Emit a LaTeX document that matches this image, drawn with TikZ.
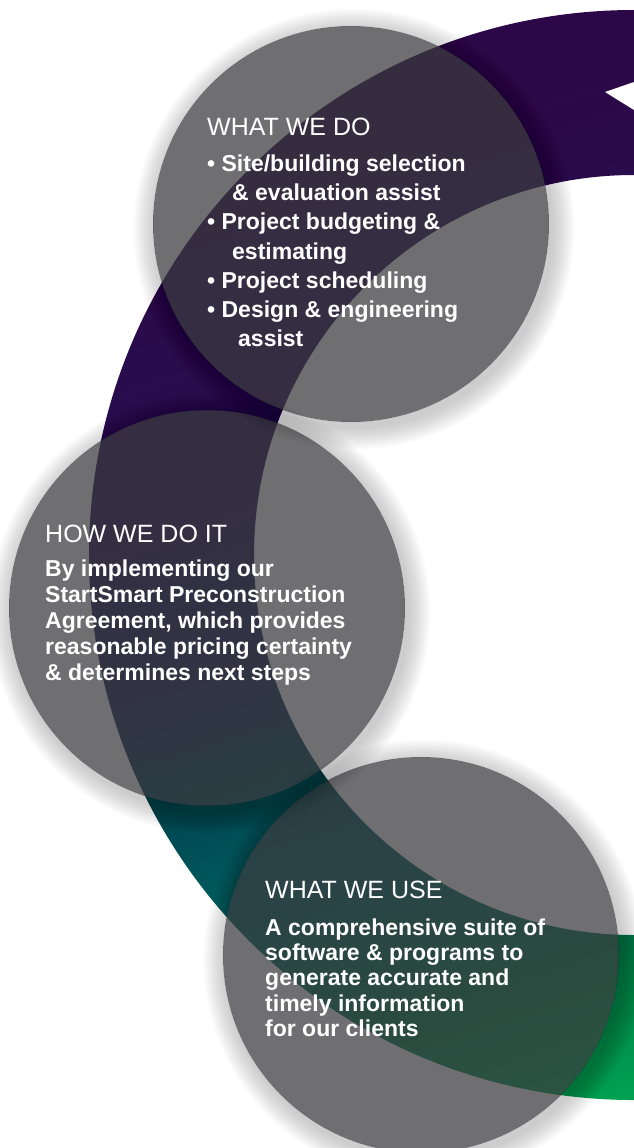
\documentclass[tikz,border=0pt]{standalone}
\usepackage{fontspec}
\setmainfont{Liberation Sans}
\definecolor{discgray}{RGB}{58,58,62}
\definecolor{bandpurple}{RGB}{44,8,72}
\definecolor{bandviolet}{RGB}{38,16,82}
\definecolor{bandnavy}{RGB}{24,36,84}
\definecolor{banddkteal}{RGB}{0,70,80}
\definecolor{bandteal}{RGB}{0,95,96}
\definecolor{banddkgreen}{RGB}{0,120,70}
\definecolor{bandgreen}{RGB}{0,163,82}
\pgfdeclareverticalshading{arcband}{100bp}{color(0bp)=(bandgreen); color(26bp)=(bandgreen);
  color(33bp)=(banddkgreen); color(39.5bp)=(bandteal); color(45bp)=(banddkteal);
  color(50bp)=(bandnavy); color(58bp)=(bandviolet); color(72bp)=(bandpurple); color(100bp)=(bandpurple)}
\tikzstyle{disc}=[circle, inner sep=0pt, minimum size=396pt, fill=discgray, fill opacity=0.73]
\tikzstyle{head}=[anchor=base west, inner sep=0pt, text=white, font=\fontsize{25}{30}\selectfont]
\tikzstyle{body}=[anchor=base west, inner sep=0pt, text=white, align=left]

\begin{document}
\begin{tikzpicture}[x=1pt, y=-1pt]
                    \useasboundingbox (0,0) rectangle (634,1148);
                    \begin{scope}
                    \clip (0,0) rectangle (634,1148);
                    \shade[even odd rule, shading=arcband, shading angle=17] (634,555) circle (545pt) (634,555) circle (380pt);
                    \fill[white] (634,82) -- (605,92) -- (634,110) -- cycle;
                    \end{scope}
                    \node[disc] (c1) at (351,224) {};
                    \node[disc] (c2) at (207,608) {};
                    \node[disc] (c3) at (421,955) {};
                    \foreach \c in {c1,c2,c3} {
                        \begin{scope}[even odd rule]
                        \clip (0,0) rectangle (634,1148) (\c.center) circle (198pt);
                        \foreach \k in {1,...,14}
                            \fill[black, fill opacity=0.017] ([xshift=3pt, yshift=-5pt]\c.center) circle ({198+1.6*\k});
                        \end{scope}
                    }
                    \node[head] (h1) at (207,135) {WHAT WE DO};
                    \node[body, font=\bfseries\fontsize{23}{29.2}\selectfont] (t1) at (207,346.7)
                        {\textbullet\ Site/building selection\\
                         \hspace*{25pt}\& evaluation assist\\
                         \textbullet\ Project budgeting \&\\
                         \hspace*{25pt}estimating\\
                         \textbullet\ Project scheduling\\
                         \textbullet\ Design \& engineering\\
                         \hspace*{31pt}assist};
                    \node[head] (h2) at (45,542) {HOW WE DO IT};
                    \node[body, font=\bfseries\fontsize{23}{25.8}\selectfont] (t2) at (45,680)
                        {By implementing our\\
                         StartSmart Preconstruction\\
                         Agreement, which provides\\
                         reasonable pricing certainty\\
                         \& determines next steps};
                    \node[head] (h3) at (265,898) {WHAT WE USE};
                    \node[body, font=\bfseries\fontsize{23}{25.4}\selectfont] (t3) at (265,1036.7)
                        {A comprehensive suite of\\
                         software \& programs to\\
                         generate accurate and\\
                         timely information\\
                         for our clients};
                \end{tikzpicture}
\end{document}
